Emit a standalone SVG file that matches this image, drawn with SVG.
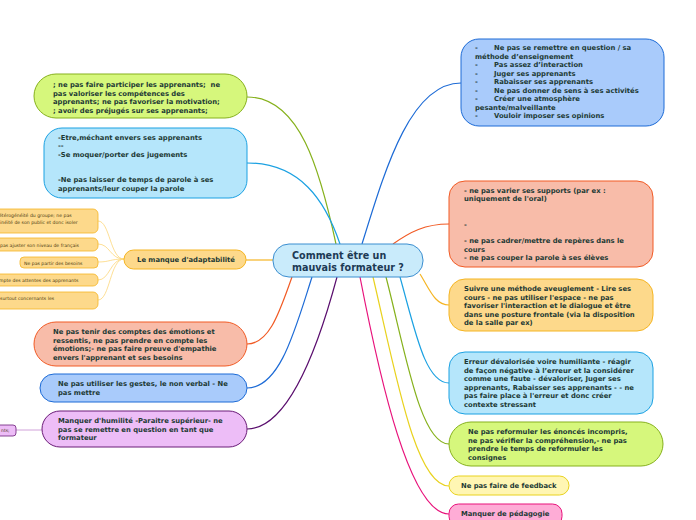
<svg xmlns="http://www.w3.org/2000/svg" width="696" height="520" viewBox="0 0 696 520">
<style>
.t{font-family:"DejaVu Sans",Verdana,sans-serif;font-weight:bold;font-size:6.8px;fill:#1d3a35}
.s{font-family:"DejaVu Sans",Verdana,sans-serif;font-size:4.6px;fill:#4a3a10}
.c{font-family:"DejaVu Sans",Verdana,sans-serif;font-weight:bold;font-size:9.6px;fill:#1d3a55}
.l{fill:none;stroke-width:1.2}
.sw{stroke-width:1}
.gr{fill:#d6f77c;stroke:#86b11c}
.lb{fill:#b5e6fb;stroke:#1ba1e2}
.ce{fill:#c9ebfb;stroke:#3b8ed0}
.or{fill:#fdd98b;stroke:#f5b523}
.sa{fill:#f8bca9;stroke:#f15a24}
.bl{fill:#a9cbfb;stroke:#1d6bd6}
.pu{fill:#edbdf7;stroke:#6b1c78}
.ye{fill:#fff6b3;stroke:#e9d21e}
.pk{fill:#feacd6;stroke:#e8127b}
</style>
<g id="connectors">
<path class="l" stroke="#86b11c" d="M336,244 C320,170 300,97 247,97"/>
<path class="l" stroke="#1ba1e2" d="M340,244 C325,200 300,163 247,163"/>
<path class="l" stroke="#f5b523" d="M273,260 L246,260"/>
<path class="l" stroke="#f15a24" d="M292,277 C280,310 270,344 247,344"/>
<path class="l" stroke="#1d6bd6" d="M312,277 C295,330 280,388 247,388"/>
<path class="l" stroke="#5a0e6e" d="M337,277 C320,340 290,429 247,429"/>
<path class="l" stroke="#1d6bd6" d="M362,244 C385,170 410,83 461,83"/>
<path class="l" stroke="#f15a24" d="M393,244 C410,232 425,224 449,224"/>
<path class="l" stroke="#f5b523" d="M420,274 C430,290 435,305 449,305"/>
<path class="l" stroke="#1ba1e2" d="M400,277 C415,330 425,383 449,383"/>
<path class="l" stroke="#86b11c" d="M386,277 C405,350 420,444 449,444"/>
<path class="l" stroke="#e9d21e" d="M373,277 C395,370 415,486 449,486"/>
<path class="l" stroke="#e8127b" d="M360,277 C380,380 410,514 449,514"/>
<g stroke="#fcd77a" fill="none" stroke-width="0.8">
<path d="M98,221 C110,221 110,259 124,259"/>
<path d="M98,244 C110,244 110,259 124,259"/>
<path d="M98,262 C110,262 110,259 124,259"/>
<path d="M98,280 C110,280 110,259 124,259"/>
<path d="M98,300 C110,300 110,259 124,259"/>
</g>
<path stroke="#c58ad0" stroke-width="0.8" fill="none" d="M16,430 L42,430"/>
</g>
<g id="center"><rect class="ce" x="273" y="244" width="150" height="33" rx="16"/>
<text class="c" x="292" y="259">Comment être un</text><text class="c" x="292" y="270.5">mauvais formateur ?</text></g>
<g id="n-green-left"><rect class="gr sw" x="34" y="74" width="213" height="44" rx="22"/>
<text class="t" x="53" y="87" xml:space="preserve">; ne pas faire participer les apprenants;  ne</text>
<text class="t" x="53" y="95.5">pas valoriser les compétences des</text>
<text class="t" x="53" y="104">apprenants; ne pas favoriser la motivation;</text>
<text class="t" x="53" y="112.5">; avoir des préjugés sur ses apprenants;</text></g>
<g id="n-blue-left"><rect class="lb sw" x="44" y="128" width="203" height="70" rx="18"/>
<text class="t" x="58" y="140">-Etre,méchant envers ses apprenants</text>
<text class="t" x="58" y="148">--</text>
<text class="t" x="58" y="156.5">-Se moquer/porter des jugements</text>
<text class="t" x="58" y="182">-Ne pas laisser de temps de parole à ses</text>
<text class="t" x="58" y="190.5">apprenants/leur couper la parole</text></g>
<g id="n-manque"><rect class="or sw" x="124" y="250" width="122" height="19" rx="9.5"/>
<text class="t" x="186" y="262" text-anchor="middle">Le manque d'adaptabilité</text></g>
<g id="n-s1"><rect class="or" stroke-width="0.8" x="-10" y="209" width="108" height="24" rx="5"/>
<text class="s" x="-1" y="217">étérogénéité du groupe; ne pas</text>
<text class="s" x="0" y="224">inéité de son public et donc isoler</text></g>
<g id="n-s2"><rect class="or" stroke-width="0.8" x="-10" y="238" width="108" height="13" rx="5"/>
<text class="s" x="0" y="246.5">pas ajuster son niveau de français</text></g>
<g id="n-s3"><rect class="or" stroke-width="0.8" x="20" y="257" width="78" height="11" rx="4"/>
<text class="s" x="24" y="264.5">Ne pas partir des besoins</text></g>
<g id="n-s4"><rect class="or" stroke-width="0.8" x="-10" y="274" width="108" height="12" rx="5"/>
<text class="s" x="-1" y="282">mpte des attentes des apprenants</text></g>
<g id="n-s5"><rect class="or" stroke-width="0.8" x="-10" y="292" width="108" height="17" rx="5"/>
<text class="s" x="0" y="299.5">surtout concernants les</text></g>
<g id="n-pink-left"><rect class="sa sw" x="34" y="322" width="213" height="44" rx="22"/>
<text class="t" x="53" y="334">Ne pas tenir des comptes des émotions et</text>
<text class="t" x="53" y="342.5">ressentis, ne pas prendre en compte les</text>
<text class="t" x="53" y="351">émotions;- ne pas faire preuve d'empathie</text>
<text class="t" x="53" y="359.5">envers l'apprenant et ses besoins</text></g>
<g id="n-blue-small"><rect class="bl sw" x="40" y="374" width="207" height="28" rx="14"/>
<text class="t" x="58" y="386">Ne pas utiliser les gestes, le non verbal - Ne</text>
<text class="t" x="58" y="395">pas mettre</text></g>
<g id="n-purple"><rect class="pu sw" x="42" y="411" width="205" height="36" rx="18"/>
<text class="t" x="58" y="423">Manquer d'humilité -Paraitre supérieur- ne</text>
<text class="t" x="58" y="431.5">pas se remettre en question en tant que</text>
<text class="t" x="58" y="440">formateur</text></g>
<g id="n-purple-small"><rect class="pu" stroke-width="0.8" x="-10" y="425" width="26" height="11" rx="3"/>
<text class="s" x="1" y="432" fill="#3a1a40">nts;</text></g>
<g id="n-blue-right"><rect class="bl sw" x="461" y="39" width="203" height="87" rx="18"/>
<text class="t" x="475" y="50">-</text><text class="t" x="494" y="50">Ne pas se remettre en question / sa</text>
<text class="t" x="475" y="58.5">méthode d’enseignement</text>
<text class="t" x="475" y="67">-</text><text class="t" x="494" y="67">Pas assez d’interaction</text>
<text class="t" x="475" y="75.5">-</text><text class="t" x="494" y="75.5">Juger ses apprenants</text>
<text class="t" x="475" y="84">-</text><text class="t" x="494" y="84">Rabaisser ses apprenants</text>
<text class="t" x="475" y="92.5">-</text><text class="t" x="494" y="92.5">Ne pas donner de sens à ses activités</text>
<text class="t" x="475" y="101">-</text><text class="t" x="494" y="101">Créer une atmosphère</text>
<text class="t" x="475" y="109.5">pesante/malveillante</text>
<text class="t" x="475" y="118">-</text><text class="t" x="494" y="118">Vouloir imposer ses opinions</text></g>
<g id="n-salmon-right"><rect class="sa sw" x="449" y="181" width="204" height="86" rx="16"/>
<text class="t" x="464" y="192.5">- ne pas varier ses supports (par ex :</text>
<text class="t" x="464" y="201">uniquement de l'oral)</text>
<text class="t" x="464" y="226.5">-</text>
<text class="t" x="464" y="243">- ne pas cadrer/mettre de repères dans le</text>
<text class="t" x="464" y="251.5">cours</text>
<text class="t" x="464" y="260">- ne pas couper la parole à ses élèves</text></g>
<g id="n-orange-right"><rect class="or sw" x="449" y="279" width="204" height="52" rx="16"/>
<text class="t" x="464" y="291">Suivre une méthode aveuglement - Lire ses</text>
<text class="t" x="464" y="299.5">cours - ne pas utiliser l'espace - ne pas</text>
<text class="t" x="464" y="308">favoriser l'interaction et le dialogue et être</text>
<text class="t" x="464" y="316.5">dans une posture frontale (via la disposition</text>
<text class="t" x="464" y="325">de la salle par ex)</text></g>
<g id="n-lightblue-right"><rect class="lb sw" x="449" y="352" width="204" height="62" rx="16"/>
<text class="t" x="464" y="364">Erreur dévalorisée voire humiliante - réagir</text>
<text class="t" x="464" y="372.5">de façon négative à l’erreur et la considérer</text>
<text class="t" x="464" y="381">comme une faute - dévaloriser, Juger ses</text>
<text class="t" x="464" y="389.5">apprenants, Rabaisser ses apprenants - - ne</text>
<text class="t" x="464" y="398">pas faire place à l'erreur et donc créer</text>
<text class="t" x="464" y="406.5">contexte stressant</text></g>
<g id="n-green-right"><rect class="gr sw" x="449" y="422" width="214" height="44" rx="22"/>
<text class="t" x="468" y="434">Ne pas reformuler les énoncés incompris,</text>
<text class="t" x="468" y="442.5">ne pas vérifier la compréhension,- ne pas</text>
<text class="t" x="468" y="451">prendre le temps de reformuler les</text>
<text class="t" x="468" y="459.5">consignes</text></g>
<g id="n-feedback"><rect class="ye sw" x="449" y="476" width="120" height="19" rx="9.5"/>
<text class="t" x="461" y="488">Ne pas faire de feedback</text></g>
<g id="n-pedagogie"><rect class="pk sw" x="449" y="504" width="113" height="22" rx="9.5"/>
<text class="t" x="461" y="516">Manquer de pédagogie</text></g>
</svg>
